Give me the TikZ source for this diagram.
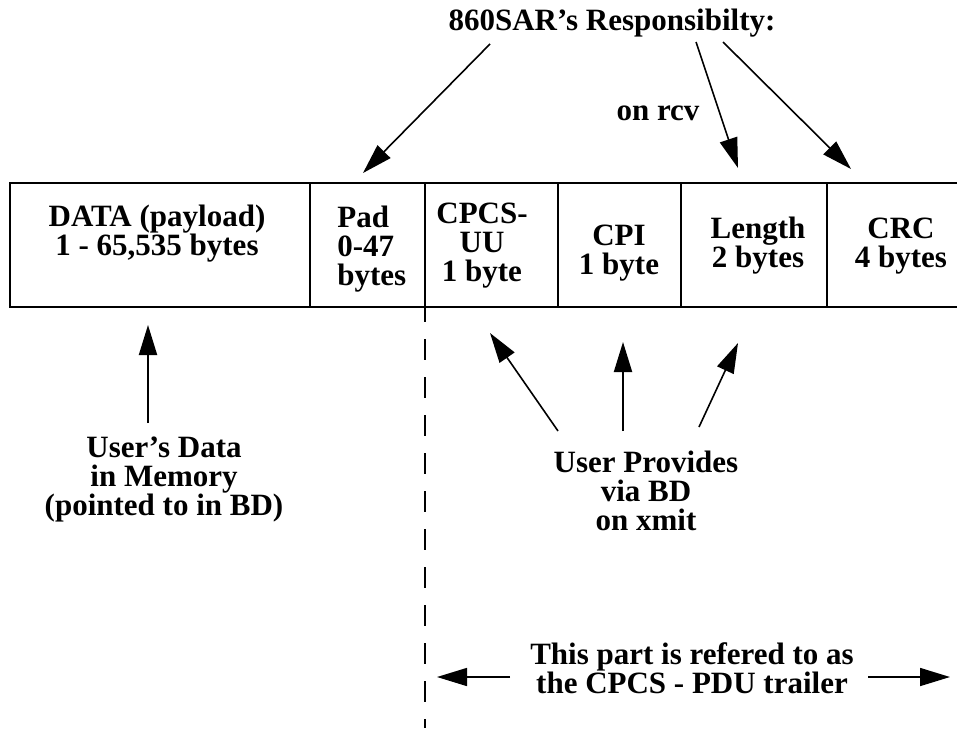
\documentclass[tikz,border=0pt]{standalone}
\usepackage{fontspec}
\setmainfont{Liberation Serif}
\usetikzlibrary{arrows.meta}
\begin{document}
\begin{tikzpicture}[x=0.5pt,y=-0.5pt,
  lbl/.style={font=\bfseries\fontsize{15.5}{14.5}\selectfont, inner sep=0pt, align=center, anchor=base},
  frame/.style={line width=1.2pt},
  ptr/.style={line width=0.8pt, -{Triangle[length=15pt,width=9pt]}},
  upptr/.style={line width=1pt, -{Triangle[length=15pt,width=9pt]}},
  border/.style={line width=1.2pt, dash pattern=on 10.5pt off 8.5pt, dash phase=3pt},
]
\useasboundingbox (0,0) rectangle (957,728);

% PDU layout: open-ended frame and field dividers
\draw[frame] (957,183) -- (10,183) -- (10,307) -- (957,307);
\foreach \x in {310,425,558,681,827}
  \draw[frame] (\x,183) -- (\x,307);

% field labels (placed at the baseline of their last line)
\node[lbl] (data) at (157,255) {DATA (payload)\\1 - 65,535 bytes};
\node[lbl, align=left, anchor=base west] (pad) at (337,285) {Pad\\0-47\\bytes};
\node[lbl] (uu) at (482,281) {CPCS-\\UU\\1 byte};
\node[lbl] (cpi) at (619,274) {CPI\\1 byte};
\node[lbl] (len) at (758,267) {Length\\2 bytes};
\node[lbl] (crc) at (901,267) {CRC\\4 bytes};

% responsibility labels
\node[lbl] (title) at (612,30) {860SAR’s Responsibilty:};
\node[lbl] (rcv) at (658,120) {on rcv};
\node[lbl] (mem) at (164,515) {User’s Data\\in Memory\\(pointed to in BD)};
\node[lbl] (prov) at (646,530) {User Provides\\via BD\\on xmit};
\node[lbl] (trl) at (692,693) {This part is refered to as\\the CPCS - PDU trailer};

% arrow end points
\coordinate (s1) at (490,44);  \coordinate (e1) at (363,173);
\coordinate (s2) at (696,42);  \coordinate (e2) at (738,168);
\coordinate (s3) at (723,42);  \coordinate (e3) at (851,169);
\coordinate (m0) at (148,423); \coordinate (d0) at (148,325);
\coordinate (u1) at (558,431); \coordinate (f1) at (490,333);
\coordinate (u2) at (623,431); \coordinate (f2) at (623,342);
\coordinate (u3) at (699,427); \coordinate (f3) at (738,343);
\coordinate (la) at (510,677); \coordinate (lb) at (437,677);
\coordinate (ra) at (868,677); \coordinate (rb) at (950,677);
\coordinate (dtop) at (425,307); \coordinate (dbot) at (425,728);

\draw[ptr] (s1) -- (e1);
\draw[ptr] (s2) -- (e2);
\draw[ptr] (s3) -- (e3);
\draw[upptr] (m0) -- (d0);
\draw[ptr] (u1) -- (f1);
\draw[upptr] (u2) -- (f2);
\draw[ptr] (u3) -- (f3);
\draw[ptr] (la) -- (lb);
\draw[ptr] (ra) -- (rb);

% trailer boundary
\draw[border] (dtop) -- (dbot);
\end{tikzpicture}
\end{document}
